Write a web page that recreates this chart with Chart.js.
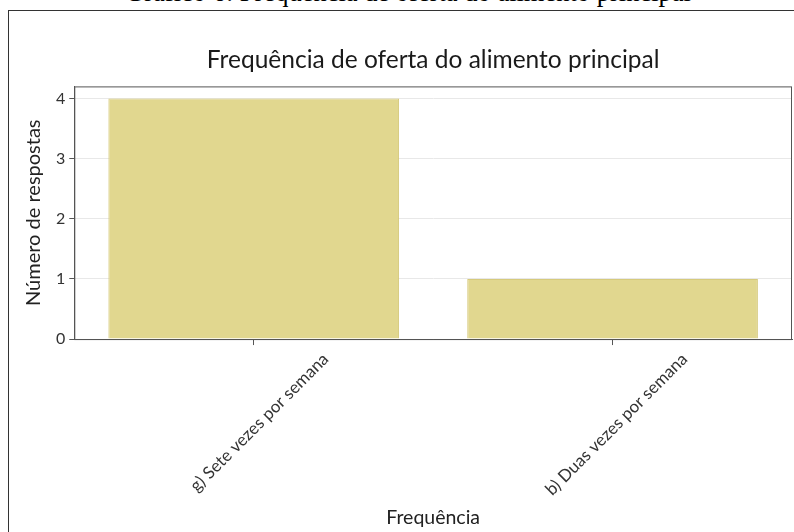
<!DOCTYPE html>
<html>
<head>
<meta charset="utf-8">
<script src="https://cdn.jsdelivr.net/npm/chart.js@4"></script>
<style>
  html, body { margin: 0; padding: 0; background: #fff; overflow: hidden; }
  body { width: 794px; height: 532px; position: relative; }
  #caption {
    position: absolute; left: 0; width: 816px; top: -23px; white-space: nowrap;
    text-align: center; font-family: "Liberation Serif", serif; font-size: 26.5px; color: #000;
  }
  #frame {
    position: absolute; left: 8px; top: 10px; width: 800px; height: 540px;
    border: 1px solid #333; box-sizing: border-box;
  }
  #wrap { position: absolute; left: 9px; top: 11px; width: 785px; height: 521px; }
</style>
</head>
<body>
<div id="caption">Gráfico 6: Frequência de oferta do alimento principal</div>
<div id="frame"></div>
<div id="wrap"><canvas id="chart"></canvas></div>
<script>
// ── Data ──────────────────────────────────────────────────────────────────
const categories = ["g) Sete vezes por semana", "b) Duas vezes por semana"];
const respostas  = [4, 1];
const yTicks     = [0, 1, 2, 3, 4];

const FONT = "Lato, 'Open Sans', sans-serif";

// draws the box round the plot area (top and right edges)
const plotBox = {
  id: "plotBox",
  afterDraw(chart) {
    const { ctx, chartArea: a } = chart;
    ctx.save();
    ctx.strokeStyle = "#555";
    ctx.lineWidth = 1;
    ctx.strokeRect(a.left + 0.5, a.top + 0.5, a.right - a.left - 1, a.bottom - a.top);
    ctx.restore();
  }
};

new Chart(document.getElementById("chart"), {
  type: "bar",
  data: {
    labels: categories,
    datasets: [{
      label: "Número de respostas",
      data: respostas,
      backgroundColor: "#e1d78f",
      borderColor: "#d6ca7c",
      borderWidth: 1,
      categoryPercentage: 0.81,
      barPercentage: 1.0,
    }],
  },
  options: {
    responsive: true,
    maintainAspectRatio: false,
    animation: false,
    layout: { padding: { left: 13, right: 2, top: 0, bottom: 3 } },
    plugins: {
      legend: { display: false },
      tooltip: { enabled: false },
      title: {
        display: true,
        fullSize: false,
        text: "Frequência de oferta do alimento principal",
        color: "#1a1a1a",
        font: { family: FONT, size: 24.5, weight: "normal" },
        padding: { top: 34, bottom: 12 },
      },
    },
    scales: {
      x: {
        grid: { display: true, offset: false, drawOnChartArea: false, drawTicks: true, tickLength: 6, tickColor: "#555" },
        border: { color: "#555" },
        ticks: {
          color: "#333",
          font: { family: FONT, size: 17 },
          maxRotation: 45, minRotation: 45,
          padding: 4,
          labelOffset: 72,
        },
        title: {
          display: true, text: "Frequência", color: "#222",
          font: { family: FONT, size: 19.5 }, padding: { top: 2, bottom: 0 },
        },
      },
      y: {
        min: 0, max: 4.2,
        grid: { color: "#e8e8e8", tickLength: 5, tickColor: "#555" },
        border: { color: "#555" },
        afterBuildTicks(scale) { scale.ticks = yTicks.map(v => ({ value: v })); },
        ticks: {
          color: "#333",
          font: { family: FONT, size: 16 },
          padding: 4,
        },
        title: {
          display: true, text: "Número de respostas", color: "#222",
          font: { family: FONT, size: 20 }, padding: { top: 0, bottom: 6 },
        },
      },
    },
  },
  plugins: [plotBox],
});
</script>
</body>
</html>
